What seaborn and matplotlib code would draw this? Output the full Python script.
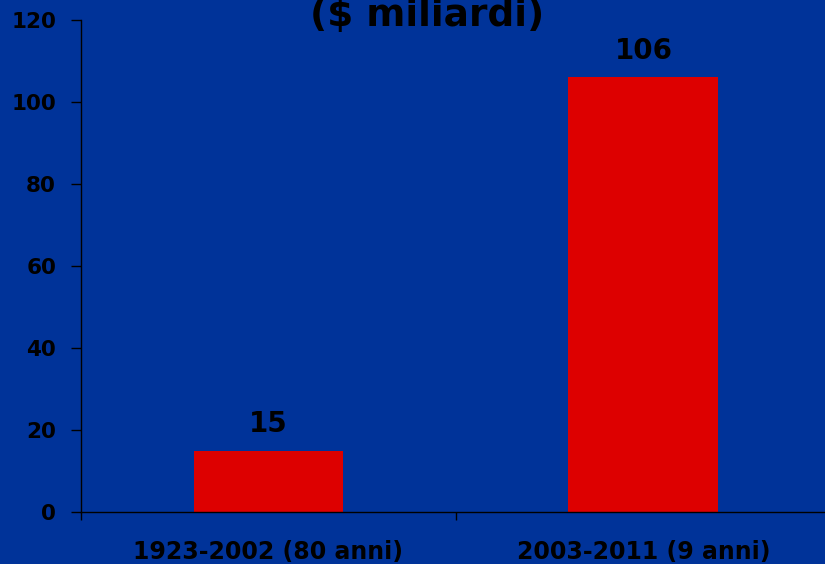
import matplotlib
matplotlib.use('Agg')
import matplotlib.pyplot as plt
import seaborn as sns
import pandas as pd

# Data
periods = ['1923-2002 (80 anni)', '2003-2011 (9 anni)']
values = [15, 106]
value_labels = ['15', '106']
title_text = '($ miliardi)'

bg = '#003399'
bar_color = '#DD0000'

sns.set_theme(style='white')
plt.rcParams['font.family'] = ['DejaVu Sans']
plt.rcParams['font.weight'] = 'bold'

df = pd.DataFrame({'period': periods, 'value': values})

fig = plt.figure(figsize=(8.25, 5.64), dpi=100, facecolor=bg)
ax = fig.add_axes([0.0982, 0.0922, 0.909, 0.8723])
ax.set_facecolor(bg)

sns.barplot(data=df, x='period', y='value', color=bar_color, width=0.4,
            saturation=1, linewidth=0, ax=ax)

ax.set_xlim(-0.5, 1.5)
ax.set_ylim(0, 120)
ax.set_yticks(range(0, 121, 20))
ax.set_xlabel('')
ax.set_ylabel('')

for s in ['top', 'right']:
    ax.spines[s].set_visible(False)
for s in ['left', 'bottom']:
    ax.spines[s].set_color('black')
    ax.spines[s].set_linewidth(1.0)

ax.tick_params(axis='y', which='major', direction='out', length=7, width=1,
               color='black', labelsize=15.5, labelcolor='black', pad=11, left=True)
ax.tick_params(axis='x', which='major', length=0, labelsize=17,
               labelcolor='black', pad=20)
ax.set_xticks([-0.5, 0.5, 1.5], minor=True)
ax.tick_params(axis='x', which='minor', direction='out', length=6, width=1,
               color='black', bottom=True)
for lbl in ax.get_xticklabels() + ax.get_yticklabels():
    lbl.set_fontweight('bold')

for i, (v, t) in enumerate(zip(values, value_labels)):
    ax.annotate(t, xy=(i, v), xytext=(0, 9), textcoords='offset points',
                ha='center', va='bottom', fontsize=20, fontweight='bold',
                color='black')

# title sits partly above the top edge, as in the reference
fig.text(0.518, 0.939, title_text, ha='center', va='bottom', fontsize=27,
         fontweight='bold', color='black')

fig.savefig('out.png', dpi=100, facecolor=bg)
